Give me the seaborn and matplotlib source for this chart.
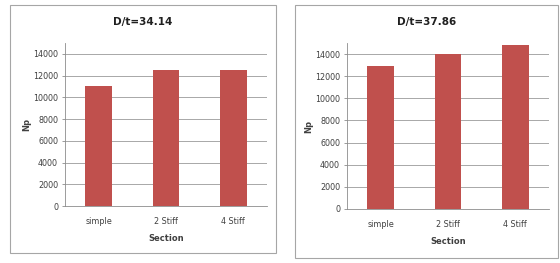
import matplotlib
matplotlib.use("Agg")
import matplotlib.pyplot as plt
import pandas as pd
import seaborn as sns
from matplotlib.patches import Rectangle

sections = ["simple", "2 Stiff", "4 Stiff"]
np_dt_34 = [11000, 12500, 12500]
np_dt_38 = [12900, 14050, 14850]
titles = ["D/t=34.14", "D/t=37.86"]
yticks = [0, 2000, 4000, 6000, 8000, 10000, 12000, 14000]

BAR = "#C0504D"
W, H = 560, 263

sns.set_theme(style="white")
plt.rcParams["font.family"] = ["DejaVu Sans"]

fig = plt.figure(figsize=(W / 100, H / 100), dpi=100)
fig.patch.set_facecolor("white")

# outer chart boxes (pixel coords -> figure fraction)
boxes = [(10, 5, 276, 253), (295, 5, 558, 258)]
# plot areas: left, top, right, bottom in pixels
areas = [(65, 43, 267, 206), (347, 43, 549, 209)]

for box in boxes:
    x0, y0, x1, y1 = box
    fig.patches.append(Rectangle((x0 / W, 1 - y1 / H), (x1 - x0) / W, (y1 - y0) / H,
                                 transform=fig.transFigure, fill=False,
                                 edgecolor="#a6a6a6", linewidth=0.8))

for (l, t, r, b), vals, title, box in zip(areas, [np_dt_34, np_dt_38], titles, boxes):
    ax = fig.add_axes([l / W, 1 - b / H, (r - l) / W, (b - t) / H])
    df = pd.DataFrame({"Section": sections, "Np": vals})
    sns.barplot(data=df, x="Section", y="Np", color=BAR, saturation=1,
                width=0.4, linewidth=0, ax=ax, zorder=3)
    ax.set_ylim(0, 15000)
    ax.set_yticks(yticks)
    ax.yaxis.grid(True, color="#9a9a9a", linewidth=0.6, zorder=0)
    ax.set_axisbelow(True)
    for s in ["top", "right"]:
        ax.spines[s].set_visible(False)
    for s in ["left", "bottom"]:
        ax.spines[s].set_color("#8c8c8c")
        ax.spines[s].set_linewidth(0.6)
    ax.tick_params(axis="both", labelsize=5.8, colors="#404040", length=2,
                   width=0.6, pad=3)
    ax.tick_params(axis="y", left=True, color="#8c8c8c")
    ax.tick_params(axis="x", bottom=False, pad=6)
    ax.set_xlabel("Section", fontsize=6, fontweight="bold", color="#404040", labelpad=6)
    ax.set_ylabel("Np", fontsize=6, fontweight="bold", color="#404040", labelpad=1)
    cx = (box[0] + box[2]) / 2 / W
    fig.text(cx, 1 - 22 / H, title, ha="center", va="center", fontsize=7.5,
             fontweight="bold", color="#202020")

fig.savefig("out.png", dpi=100, facecolor="white")
